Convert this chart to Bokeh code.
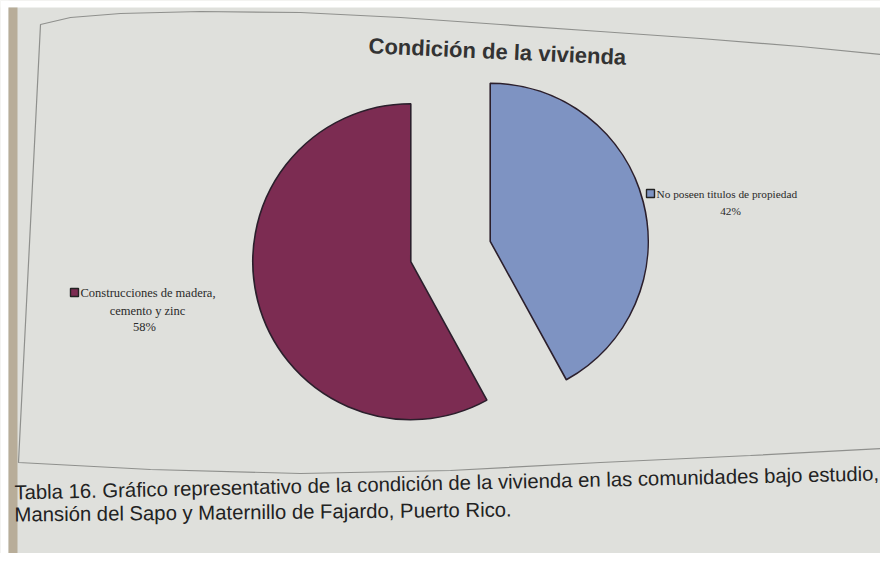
import math
from bokeh.plotting import figure
from bokeh.models import Range1d
from bokeh.core.properties import value
from bokeh.embed import file_html
from bokeh.resources import INLINE

# ---- data ----
categories = ["No poseen titulos de propiedad", "Construcciones de madera,\ncemento y zinc"]
percents = [42, 58]
colors = ["#7e93c2", "#7c2c52"]
title_text = "Condición de la vivienda"
caption_lines = [
    "Tabla 16.  Gráfico representativo de la condición de la vivienda en las comunidades bajo estudio,",
    "Mansión del Sapo y Maternillo de Fajardo, Puerto Rico.",
]

W, H = 880, 553
p = figure(width=W, height=H, output_backend="svg", toolbar_location=None,
           x_range=Range1d(0, 880), y_range=Range1d(16, 569), min_border=0)
p.axis.visible = False
p.grid.visible = False
p.outline_line_color = None
p.background_fill_color = "#dfe0dc"
p.border_fill_color = "#dfe0dc"

def Y(yimg):
    return 569 - yimg

# photo margins and page edge
p.quad(left=[0], right=[8], bottom=[Y(569)], top=[Y(0)], fill_color="#ffffff", line_color=None)
p.quad(left=[0], right=[900], bottom=[Y(7)], top=[Y(0)], fill_color="#ffffff", line_color=None)
p.quad(left=[8], right=[17], bottom=[Y(569)], top=[Y(7)], fill_color="#b8ad99", line_color=None)

# chart frame (gently curved, as on the photographed page)
top_x = [900, 800, 700, 600, 500, 400, 300, 200, 120, 70, 40]
top_y = [56, 46, 38, 31, 24, 17, 12, 11, 13, 17, 24]
bot_x = [18, 150, 300, 450, 600, 750, 900]
bot_y = [462, 469, 473, 470, 462, 455, 447]
p.line(x=top_x + bot_x, y=[Y(v) for v in top_y + bot_y], line_color="#8f908d", line_width=1.2)

# ---- pie ----
cx, cy, r, explode = 450, Y(251), 158, 41
start = math.pi / 2
for cat, pct, col in zip(categories, percents, colors):
    sweep = 2 * math.pi * pct / 100
    end = start - sweep
    mid = (start + end) / 2
    ox, oy = cx + explode * math.cos(mid), cy + explode * math.sin(mid)
    p.wedge(x=[ox], y=[oy], radius=r, start_angle=[start], end_angle=[end],
            direction="clock", fill_color=col, line_color="#2b1f2c", line_width=1.6)
    start = end

# ---- labels ----
serif = value("Liberation Serif")
tc = "#2a2a2a"
# right label (blue)
p.rect(x=[650], y=[Y(193)], width=8, height=8, fill_color=colors[0], line_color="#222", line_width=1.4)
p.text(x=[656], y=[Y(193)], text=[categories[0]], text_font=serif, text_font_size="11.3px",
       text_baseline="middle", text_align="left", text_color=tc)
p.text(x=[730], y=[Y(210)], text=[f"{percents[0]}%"], text_font=serif, text_font_size="11.3px",
       text_baseline="middle", text_align="center", text_color=tc)
# left label (red)
l1, l2 = categories[1].split("\n")
p.rect(x=[74], y=[Y(292)], width=8, height=8, fill_color=colors[1], line_color="#222", line_width=1.4)
p.text(x=[80], y=[Y(292)], text=[l1], text_font=serif, text_font_size="12.5px",
       text_baseline="middle", text_align="left", text_color=tc)
p.text(x=[147], y=[Y(310)], text=[l2], text_font=serif, text_font_size="12.5px",
       text_baseline="middle", text_align="center", text_color=tc)
p.text(x=[144], y=[Y(326)], text=[f"{percents[1]}%"], text_font=serif, text_font_size="12.5px",
       text_baseline="middle", text_align="center", text_color=tc)

# ---- title ----
p.text(x=[497], y=[Y(51)], text=[title_text], angle=-0.045, text_font=value("Liberation Sans"),
       text_font_size="22px", text_font_style="bold", text_align="center",
       text_baseline="middle", text_color="#333333")

# ---- caption ----
p.text(x=[14], y=[Y(492)], text=[caption_lines[0]], angle=0.022, text_font=value("Liberation Sans"),
       text_font_size="20.3px", text_align="left", text_baseline="middle", text_color="#222222")
p.text(x=[14], y=[Y(514)], text=[caption_lines[1]], angle=0.01, text_font=value("Liberation Sans"),
       text_font_size="20.3px", text_align="left", text_baseline="middle", text_color="#222222")

open("out.html", "w").write(file_html(p, INLINE))
